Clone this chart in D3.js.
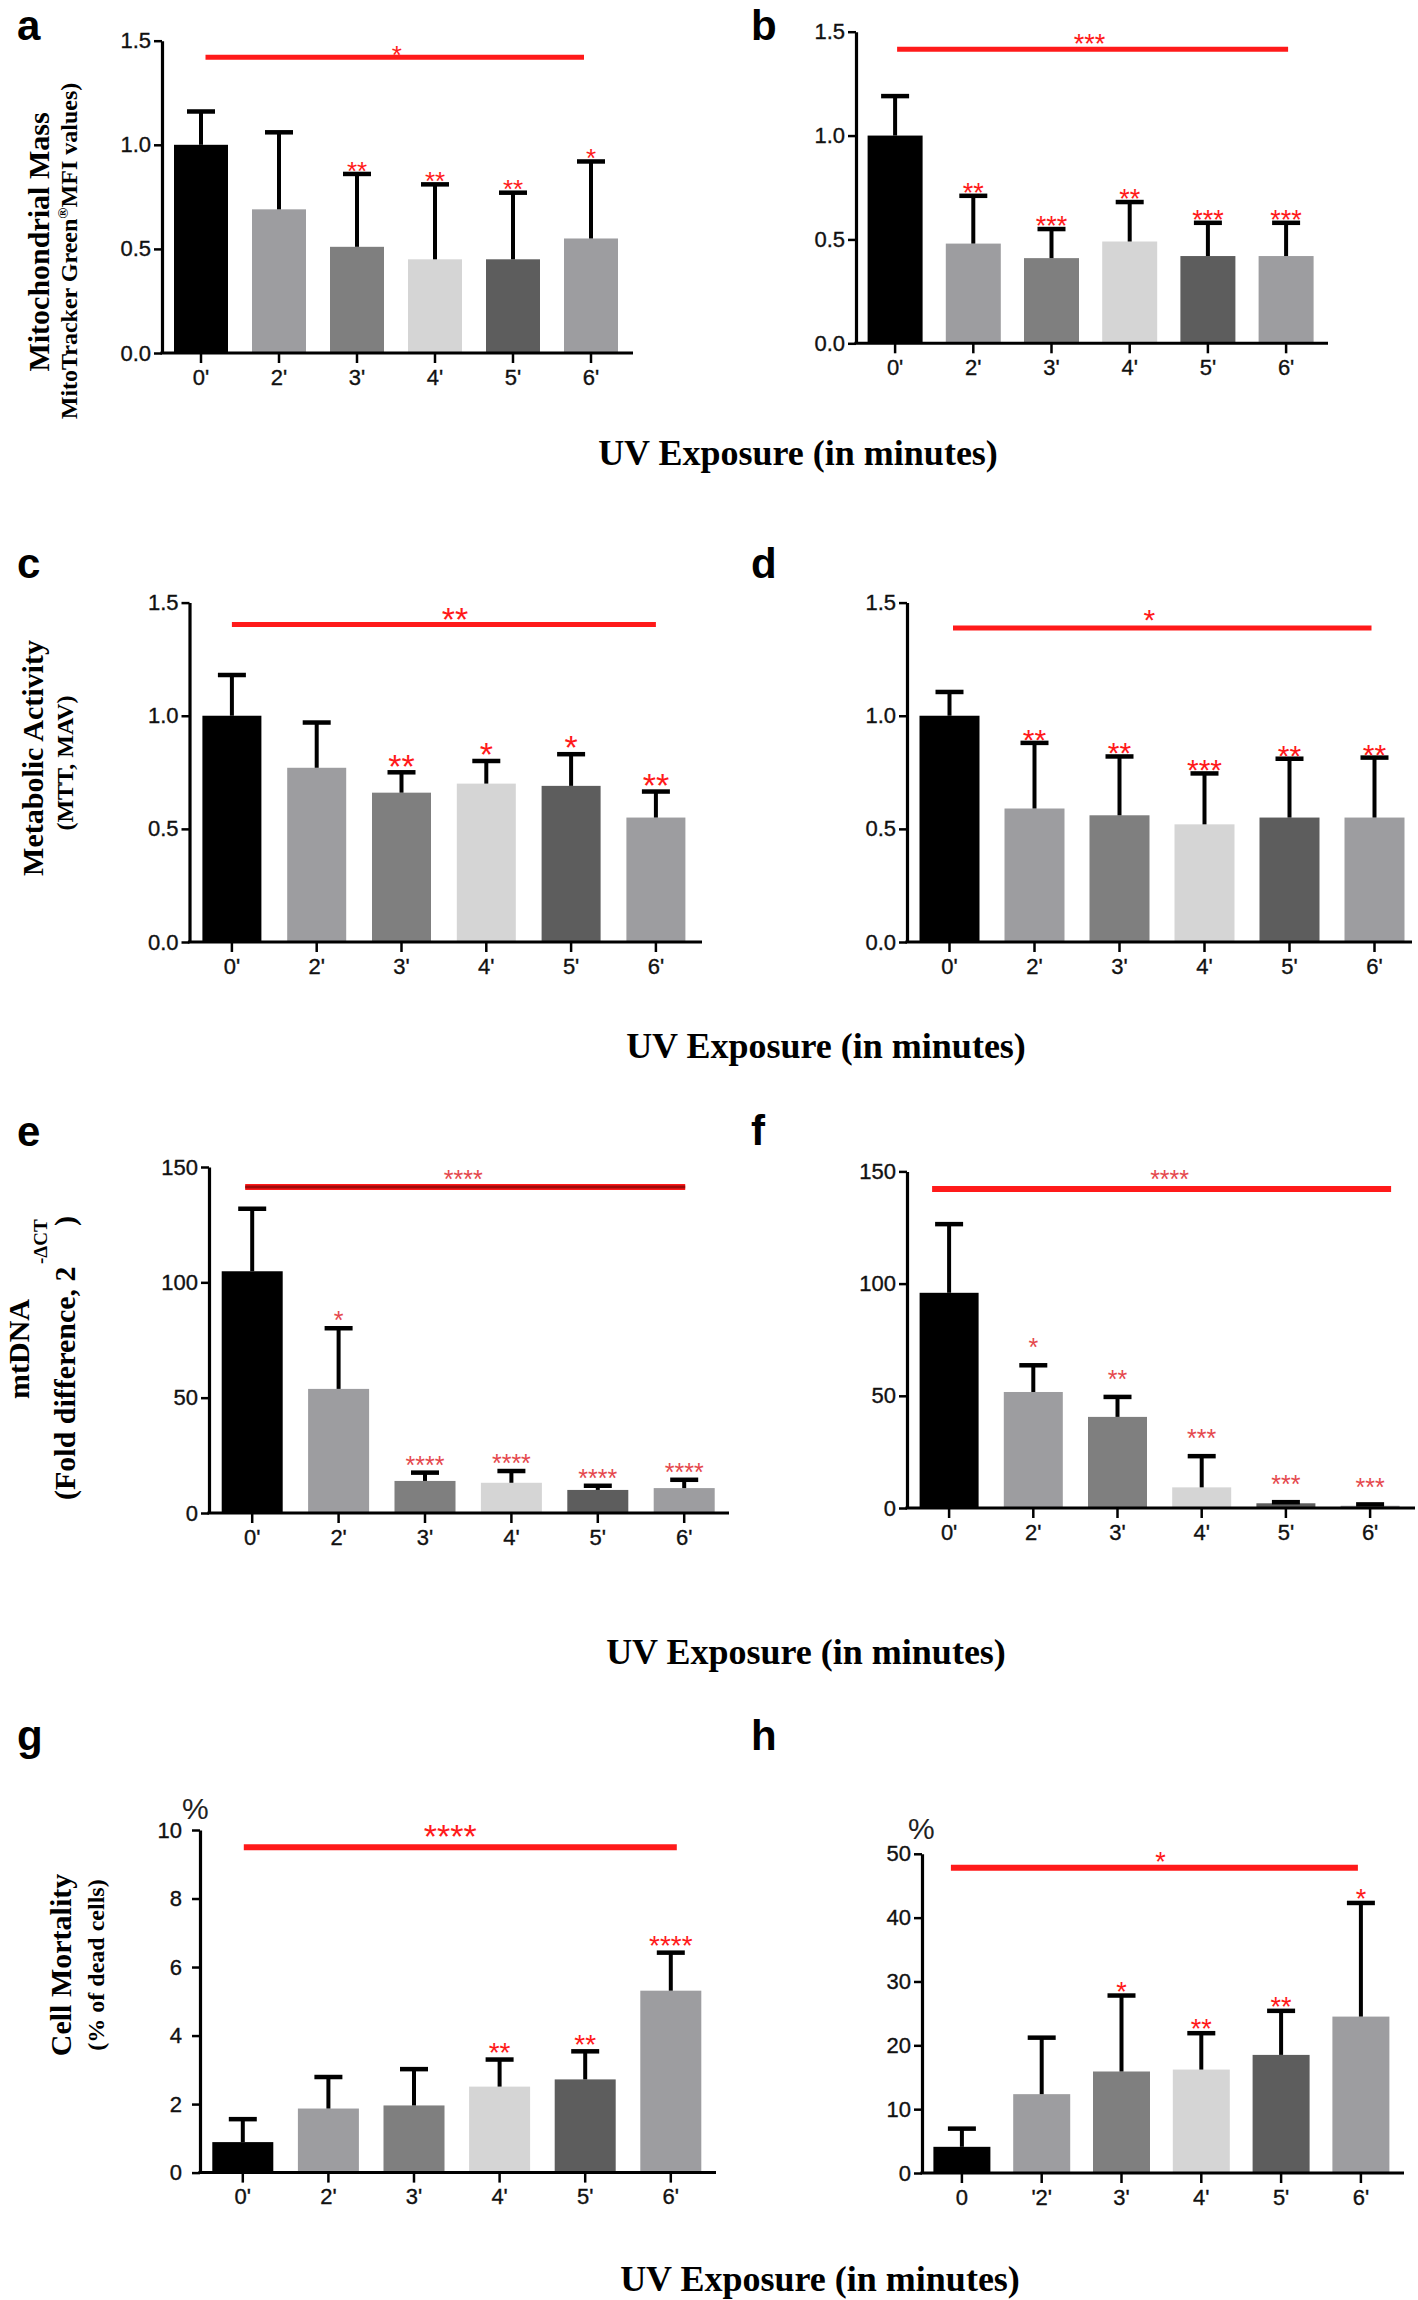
<!DOCTYPE html>
<html><head><meta charset="utf-8">
<script src="https://cdn.jsdelivr.net/npm/d3@7"></script>
<style>body{margin:0;background:#fff}</style>
</head><body>
<svg id="chart" width="1418" height="2300"></svg>
<script>
// ---------- DATA ----------
const categories  = ["0'", "2'", "3'", "4'", "5'", "6'"];
const categoriesH = ["0", "'2'", "3'", "4'", "5'", "6'"];

const ratioTicks = [0, 0.5, 1.0, 1.5];
const mtdnaTicks = [0, 50, 100, 150];
const mortGTicks = [0, 2, 4, 6, 8, 10];
const mortHTicks = [0, 10, 20, 30, 40, 50];

// a: mitochondrial mass (cells 1)
const massA      = [1.00, 0.69, 0.51, 0.45, 0.45, 0.55];
const massA_sd   = [0.16, 0.37, 0.35, 0.36, 0.32, 0.37];
const massA_sig  = ["", "", "**", "**", "**", "*"];
const massA_all  = "*";
// b: mitochondrial mass (cells 2)
const massB      = [1.00, 0.48, 0.41, 0.49, 0.42, 0.42];
const massB_sd   = [0.19, 0.23, 0.14, 0.19, 0.16, 0.16];
const massB_sig  = ["", "**", "***", "**", "***", "***"];
const massB_all  = "***";
// c: metabolic activity (cells 1)
const metC       = [1.00, 0.77, 0.66, 0.70, 0.69, 0.55];
const metC_sd    = [0.18, 0.20, 0.09, 0.10, 0.14, 0.115];
const metC_sig   = ["", "", "**", "*", "*", "**"];
const metC_all   = "**";
// d: metabolic activity (cells 2)
const metD       = [1.00, 0.59, 0.56, 0.52, 0.55, 0.55];
const metD_sd    = [0.105, 0.29, 0.26, 0.225, 0.26, 0.265];
const metD_sig   = ["", "**", "**", "***", "**", "**"];
const metD_all   = "*";
// e: mtDNA (cells 1)
const dnaE       = [104.8, 53.8, 13.9, 13.1, 10.0, 10.8];
const dnaE_sd    = [27.1, 26.3, 3.6, 5.1, 1.8, 3.6];
const dnaE_sig   = ["", "*", "****", "****", "****", "****"];
const dnaE_all   = "****";
// f: mtDNA (cells 2)
const dnaF       = [95.9, 51.7, 40.6, 9.2, 2.1, 1.0];
const dnaF_sd    = [30.6, 11.9, 8.9, 13.9, 0.5, 0.6];
const dnaF_sig   = ["", "*", "**", "***", "***", "***"];
const dnaF_all   = "****";
// g: cell mortality (cells 1)
const mortG      = [0.89, 1.87, 1.96, 2.51, 2.72, 5.31];
const mortG_sd   = [0.67, 0.92, 1.06, 0.79, 0.82, 1.11];
const mortG_sig  = ["", "", "", "**", "**", "****"];
const mortG_all  = "****";
// h: cell mortality (cells 2)
const mortH      = [4.1, 12.35, 15.9, 16.2, 18.5, 24.5];
const mortH_sd   = [2.85, 8.85, 11.9, 5.7, 6.9, 17.8];
const mortH_sig  = ["", "", "*", "**", "**", "*"];
const mortH_all  = "*";

// ---------- STYLE / LAYOUT ----------
const barColors = ["#000000", "#9d9da0", "#7f7f7f", "#d5d5d5", "#5d5d5d", "#9d9da0"];
const RED = "#ff1a1a";
const fmt1 = d3.format(".1f"), fmt0 = d3.format("d");

const panels = [
  {letter:"a", lx:17, ly:40, cats:categories, values:massA, sd:massA_sd, sig:massA_sig, all:massA_all,
   axisX:162, axisRight:633, step:78, bw:54, yTop:40.7, y0:353, yMax:1.5, ticks:ratioTicks, fmt:fmt1, tpad:3,
   starFs:26, starGap:9, bracket:1.42, bPad:[4.5,-7], allFs:26, allGap:8, allDx:2, redW:5},
  {letter:"b", lx:751, ly:40, cats:categories, values:massB, sd:massB_sd, sig:massB_sig, all:massB_all,
   axisX:856, axisRight:1328, step:78.2, bw:55, yTop:31.7, y0:343.3, yMax:1.5, ticks:ratioTicks, fmt:fmt1, tpad:3,
   starFs:27, starGap:9, bracket:1.415, bPad:[2,2], allFs:27, allGap:12, allDx:-3, redW:5},
  {letter:"c", lx:17, ly:578, cats:categories, values:metC, sd:metC_sd, sig:metC_sig, all:metC_all,
   axisX:189.5, axisRight:702, step:84.8, bw:59, yTop:602.6, y0:942, yMax:1.5, ticks:ratioTicks, fmt:fmt1, tpad:3,
   starFs:34, starGap:14, bracket:1.403, bPad:[0,0], allFs:34, allGap:13, allDx:11, redW:5},
  {letter:"d", lx:751, ly:578, cats:categories, values:metD, sd:metD_sd, sig:metD_sig, all:metD_all,
   axisX:907, axisRight:1412, step:85, bw:60, yTop:602.6, y0:942, yMax:1.5, ticks:ratioTicks, fmt:fmt1, tpad:3,
   starFs:30, starGap:10, bracket:1.388, bPad:[3.5,-3], allFs:30, allGap:15, allDx:-13, redW:5},
  {letter:"e", lx:17, ly:1146, cats:categories, values:dnaE, sd:dnaE_sd, sig:dnaE_sig, all:dnaE_all,
   axisX:209, axisRight:729, step:86.4, bw:61, yTop:1167, y0:1513, yMax:150, ticks:mtdnaTicks, fmt:fmt0, tpad:3,
   starFs:25, starGap:13, bracket:141.3, bPad:[-7,1], allFs:25, allGap:13, allDx:-2, redW:6, dark:true, starColor:"#e5484d"},
  {letter:"f", lx:751, ly:1145, cats:categories, values:dnaF, sd:dnaF_sd, sig:dnaF_sig, all:dnaF_all,
   axisX:907, axisRight:1415, step:84.2, bw:59, yTop:1171.4, y0:1508, yMax:150, ticks:mtdnaTicks, fmt:fmt0, tpad:3,
   starFs:25, starGap:23, bracket:142.2, bPad:[-17,21], allFs:25, allGap:15, allDx:8, redW:6, starColor:"#e5484d"},
  {letter:"g", lx:17, ly:1750, cats:categories, values:mortG, sd:mortG_sd, sig:mortG_sig, all:mortG_all,
   axisX:200, axisRight:716, step:85.6, bw:61, yTop:1830, y0:2172.6, yMax:10, ticks:mortGTicks, fmt:fmt0, tpad:10,
   starFs:28, starGap:13, bracket:9.5, bPad:[1,6], allFs:34, allGap:18, allDx:-10, redW:6, pct:[182,1819]},
  {letter:"h", lx:751, ly:1750, cats:categoriesH, values:mortH, sd:mortH_sd, sig:mortH_sig, all:mortH_all,
   axisX:922, axisRight:1404, step:79.8, bw:57, yTop:1853.8, y0:2173, yMax:50, ticks:mortHTicks, fmt:fmt0, tpad:3,
   starFs:27, starGap:10, bracket:47.8, bPad:[-11,-3], allFs:27, allGap:12, allDx:6, redW:6, pct:[908,1839]}
];

const svg = d3.select("#chart");
svg.append("rect").attr("width",1418).attr("height",2300).attr("fill","#fff");

const SANS = "'Liberation Sans', Arial, Helvetica, sans-serif";
const SERIF = "'Liberation Serif', 'Times New Roman', serif";

function styleTickText(sel) {
  sel.attr("font-family", SANS).attr("font-size", 22).attr("fill", "#111")
     .attr("stroke", "#111").attr("stroke-width", 0.35);
}

function drawPanel(p) {
  const g = svg.append("g");
  const pad = 1 - p.bw / p.step;
  const x = d3.scaleBand().domain(p.cats)
    .range([p.axisX, p.axisX + 6 * p.step])
    .paddingInner(pad).paddingOuter(pad / 2);
  const y = d3.scaleLinear().domain([0, p.yMax]).range([p.y0, p.yTop]);
  const cx = i => x(p.cats[i]) + x.bandwidth() / 2;

  // bars
  g.selectAll("rect.bar").data(p.values).join("rect")
    .attr("class", "bar")
    .attr("x", (d, i) => x(p.cats[i]))
    .attr("y", d => y(d))
    .attr("width", x.bandwidth())
    .attr("height", d => y(0) - y(d))
    .attr("fill", (d, i) => barColors[i]);

  // error bars (upper only)
  g.selectAll("line.err").data(p.values).join("line")
    .attr("class", "err")
    .attr("x1", (d, i) => cx(i)).attr("x2", (d, i) => cx(i))
    .attr("y1", d => y(d)).attr("y2", (d, i) => y(d + p.sd[i]))
    .attr("stroke", "#000").attr("stroke-width", 4);
  g.selectAll("line.cap").data(p.values).join("line")
    .attr("class", "cap")
    .attr("x1", (d, i) => cx(i) - 14).attr("x2", (d, i) => cx(i) + 14)
    .attr("y1", (d, i) => y(d + p.sd[i])).attr("y2", (d, i) => y(d + p.sd[i]))
    .attr("stroke", "#000").attr("stroke-width", 4.5);

  // per-bar significance stars
  g.selectAll("text.sig").data(p.sig).join("text")
    .attr("class", "sig")
    .attr("x", (d, i) => cx(i))
    .attr("y", (d, i) => y(p.values[i] + p.sd[i]) - p.starGap + 0.566 * p.starFs)
    .attr("text-anchor", "middle")
    .attr("font-family", SANS).attr("font-size", p.starFs)
    .attr("fill", p.starColor || RED)
    .text(d => d);

  // overall bracket
  const bx1 = cx(0) + p.bPad[0], bx2 = cx(5) + p.bPad[1], by = y(p.bracket);
  g.append("line").attr("x1", bx1).attr("x2", bx2).attr("y1", by).attr("y2", by)
    .attr("stroke", RED).attr("stroke-width", p.redW);
  if (p.dark) {
    g.append("line").attr("x1", bx1).attr("x2", bx2).attr("y1", by).attr("y2", by)
      .attr("stroke", "#9e0b0b").attr("stroke-width", 3);
  }
  g.append("text")
    .attr("x", (bx1 + bx2) / 2 + p.allDx)
    .attr("y", by - p.allGap + 0.566 * p.allFs)
    .attr("text-anchor", "middle")
    .attr("font-family", SANS).attr("font-size", p.allFs)
    .attr("fill", p.starColor || RED)
    .text(p.all);

  // y axis
  const ya = g.append("g").attr("transform", `translate(${p.axisX},0)`)
    .call(d3.axisLeft(y).tickValues(p.ticks).tickFormat(p.fmt)
      .tickSize(8).tickSizeOuter(0).tickPadding(p.tpad));
  ya.select(".domain").attr("stroke", "#000").attr("stroke-width", 3.2);
  ya.selectAll(".tick line").attr("stroke", "#000").attr("stroke-width", 2.5);
  styleTickText(ya.selectAll(".tick text"));

  // x axis
  const xa = g.append("g").attr("transform", `translate(0,${p.y0})`)
    .call(d3.axisBottom(x).tickSize(10).tickSizeOuter(0).tickPadding(6));
  xa.select(".domain").remove();
  xa.append("line").attr("x1", p.axisX - 1.6).attr("x2", p.axisRight)
    .attr("y1", 0).attr("y2", 0).attr("stroke", "#000").attr("stroke-width", 3);
  xa.selectAll(".tick line").attr("stroke", "#000").attr("stroke-width", 2.5);
  styleTickText(xa.selectAll(".tick text"));

  // panel letter
  svg.append("text").attr("x", p.lx).attr("y", p.ly)
    .attr("font-family", SANS).attr("font-weight", "bold").attr("font-size", 42)
    .attr("fill", "#000").text(p.letter);

  if (p.pct) {
    svg.append("text").attr("x", p.pct[0]).attr("y", p.pct[1])
      .attr("font-family", SANS).attr("font-size", 30).attr("fill", "#222").text("%");
  }
}
panels.forEach(drawPanel);

// ---------- AXIS TITLES ----------
function vtext(x, y, txt, size, anchor) {
  return svg.append("text")
    .attr("transform", `translate(${x},${y}) rotate(-90)`)
    .attr("text-anchor", anchor || "middle")
    .attr("font-family", SERIF).attr("font-weight", "bold")
    .attr("font-size", size).attr("fill", "#000").text(txt);
}
vtext(49, 242, "Mitochondrial Mass", 30);
const mt = vtext(77, 251, "", 24);
mt.append("tspan").text("MitoTracker Green");
mt.append("tspan").attr("font-size", 15).attr("dy", -9).text("®");
mt.append("tspan").attr("dy", 9).text("MFI values)");

vtext(43, 758, "Metabolic Activity", 30);
vtext(73, 763, "(MTT, MAV)", 24);

vtext(29, 1349, "mtDNA", 30);
vtext(75, 1500, "(Fold difference, 2", 30, "start");
vtext(47, 1264, "-\u0394CT", 19, "start");
vtext(75, 1226, ")", 30, "start");

vtext(71, 1965, "Cell Mortality", 30);
vtext(104, 1965, "(% of dead cells)", 24);

const xTitles = [[798, 465], [826, 1058], [806, 1664], [820, 2291]];
xTitles.forEach(([tx, ty]) => {
  svg.append("text").attr("x", tx).attr("y", ty).attr("text-anchor", "middle")
    .attr("font-family", SERIF).attr("font-weight", "bold").attr("font-size", 36)
    .attr("fill", "#000").text("UV Exposure (in minutes)");
});
</script>
</body></html>
